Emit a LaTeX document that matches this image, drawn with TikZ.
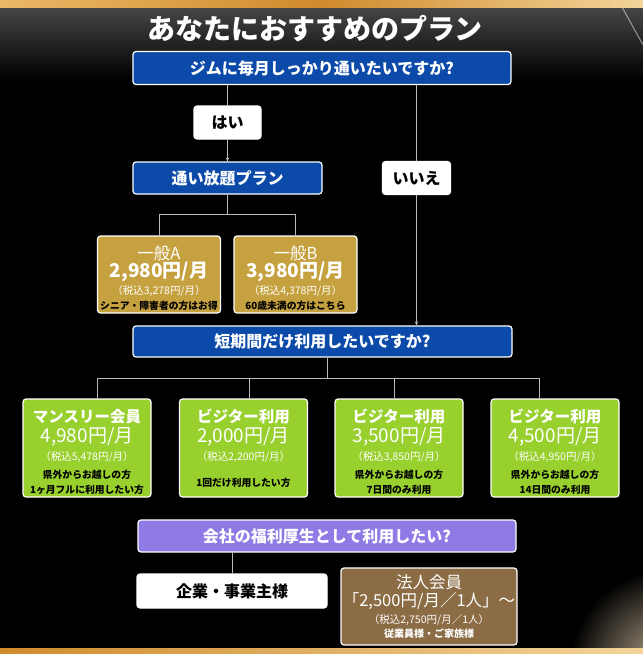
\documentclass[tikz,border=0pt]{standalone}
\usepackage{fontspec}
\setmainfont{Noto Sans CJK JP}
\usetikzlibrary{positioning}
\usetikzlibrary{arrows.meta}

\definecolor{qblue}{HTML}{0B4AA8}
\definecolor{goldc}{HTML}{C6A13F}
\definecolor{greenc}{HTML}{98D02E}
\definecolor{purplec}{HTML}{8F7AE6}
\definecolor{brownc}{HTML}{8B6C45}
\definecolor{linegrey}{HTML}{BBBBBB}
\definecolor{barL}{HTML}{EAB868}
\definecolor{barM}{HTML}{D08B2C}
\definecolor{barR}{HTML}{F3D49A}
\definecolor{glowc}{HTML}{B8A88E}

\begin{document}
\begin{tikzpicture}[x=1pt,y=-1pt,
  box/.style={draw=white,line width=1.2pt,rounded corners=3pt,inner sep=0pt},
  blue box/.style={box,fill=qblue,text=white,font=\bfseries\fontsize{16}{18}\selectfont},
  white box/.style={box,fill=white,text=black,font=\bfseries\fontsize{16}{18}\selectfont},
  gold box/.style={box,fill=goldc,minimum width=123pt,minimum height=77pt},
  green box/.style={box,fill=greenc,minimum width=128pt,minimum height=98pt},
  line/.style={draw=linegrey,line width=0.8pt},
  head/.style={text=white,inner sep=0pt,font=\fontsize{16.5}{18}\selectfont},
  price/.style={text=white,inner sep=0pt,font=\fontsize{19}{21}\selectfont},
  tax/.style={text=white,inner sep=0pt,font=\fontsize{10.5}{12}\selectfont},
  note/.style={text=black,inner sep=0pt,font=\bfseries\fontsize{9.8}{11}\selectfont},
]
\useasboundingbox (0,0) rectangle (643,654);
% background
\fill[black] (0,0) rectangle (643,654);
\shade[top color=gray!55!black,bottom color=black] (0,7) rectangle (643,80);
\begin{scope}
\clip (0,7) rectangle (643,648);
\shade[inner color=glowc,outer color=black] (665,665) circle (95);
\draw[white,opacity=0.5,line width=1pt] (622,7) -- (643,45);
\end{scope}
\shade[left color=barL,right color=barR,middle color=barM] (0,0) rectangle (643,7);
\shade[left color=barM,right color=barR] (0,648) rectangle (643,654);

\node[text=white,font=\bfseries\fontsize{28}{30}\selectfont] (title) at (315,29) {あなたにおすすめのプラン};

% first question
\node[blue box,minimum width=378pt,minimum height=33pt] (q1) at (322,68) {ジムに毎月しっかり通いたいですか?};
\node[white box,minimum width=67pt,minimum height=33pt] (yes) at (227.5,122.5) {はい};
\node[blue box,minimum width=189pt,minimum height=32pt] (plan) at (227.5,178) {通い放題プラン};
\node[white box,minimum width=68pt,minimum height=33pt] (no) at (416.5,178) {いいえ};

\node[gold box] (genA) at (159,274.5) {};
\node[gold box] (genB) at (295.5,274.5) {};
\node[head] (genA 1) at (159,253) {一般A};
\node[price,font=\bfseries\fontsize{19}{21}\selectfont] (genA 2) at (159,272) {2,980円/月};
\node[tax] (genA 3) at (159,291) {（税込3,278円/月）};
\node[note] (genA 4) at (159,306) {シニア・障害者の方はお得};
\node[head] (genB 1) at (295.5,253) {一般B};
\node[price,font=\bfseries\fontsize{19}{21}\selectfont] (genB 2) at (295.5,272) {3,980円/月};
\node[tax] (genB 3) at (295.5,291) {（税込4,378円/月）};
\node[note] (genB 4) at (295.5,306) {60歳未満の方はこちら};

\draw[line] (q1.south -| yes.north) -- (yes.north);
\draw[line,-{Stealth[length=4pt,width=3.5pt]}] (yes.south) -- (yes.south |- plan.north);
\draw[line] (q1.south -| no.north) -- (no.north);
\draw[line] (plan.south) -- ++(0,20) coordinate (split1);
\draw[line] (genA.north) |- (split1) -| (genB.north);

% second question
\node[blue box,minimum width=379pt,minimum height=31pt] (q2) at (322.5,341.5) {短期間だけ利用したいですか?};
\draw[line,-{Stealth[length=4pt,width=3.5pt]}] (no.south) -- (no.south |- q2.north);

\node[green box] (gr1) at (87,448) {};
\node[green box] (gr2) at (243.5,448) {};
\node[green box] (gr3) at (399,448) {};
\node[green box] (gr4) at (555,448) {};
\node[head,font=\bfseries\fontsize{15.5}{17}\selectfont] (gr1 1) at (87,417) {マンスリー会員};
\node[price] (gr1 2) at (87,437) {4,980円/月};
\node[tax] (gr1 3) at (87,457) {（税込5,478円/月）};
\node[note] (gr1 4) at (87,475) {県外からお越しの方};
\node[note] (gr1 5) at (87,490) {1ヶ月フルに利用したい方};
\node[head,font=\bfseries\fontsize{15.5}{17}\selectfont] (gr2 1) at (243.5,417) {ビジター利用};
\node[price] (gr2 2) at (243.5,437) {2,000円/月};
\node[tax] (gr2 3) at (243.5,457) {（税込2,200円/月）};
\node[note] (gr2 4) at (243.5,483) {1回だけ利用したい方};
\node[head,font=\bfseries\fontsize{15.5}{17}\selectfont] (gr3 1) at (399,417) {ビジター利用};
\node[price] (gr3 2) at (399,437) {3,500円/月};
\node[tax] (gr3 3) at (399,457) {（税込3,850円/月）};
\node[note] (gr3 4) at (399,475) {県外からお越しの方};
\node[note] (gr3 5) at (399,490) {7日間のみ利用};
\node[head,font=\bfseries\fontsize{15.5}{17}\selectfont] (gr4 1) at (555,417) {ビジター利用};
\node[price] (gr4 2) at (555,437) {4,500円/月};
\node[tax] (gr4 3) at (555,457) {（税込4,950円/月）};
\node[note] (gr4 4) at (555,475) {県外からお越しの方};
\node[note] (gr4 5) at (555,490) {14日間のみ利用};

\draw[line] ([xshift=4.5pt]q2.south) -- ++(0,20.5) coordinate (split2);
\draw[line] ([xshift=10pt]gr1.north) |- (split2) -| ([xshift=-16pt]gr4.north);
\draw[line] ([xshift=5.5pt]gr2.north) -- ([xshift=5.5pt]gr2.north |- split2);
\draw[line] ([xshift=-5pt]gr3.north) -- ([xshift=-5pt]gr3.north |- split2);

% third question
\node[box,fill=purplec,text=white,font=\bfseries\fontsize{16}{18}\selectfont,
  minimum width=378pt,minimum height=32pt] (q3) at (327,536) {会社の福利厚生として利用したい?};
\node[white box,minimum width=190pt,minimum height=34pt] (corp) at (232,591) {企業・事業主様};
\node[box,fill=brownc,minimum width=176pt,minimum height=77pt] (corpmem) at (429,606.5) {};
\node[head] (corpmem 1) at (429,582) {法人会員};
\node[price,font=\fontsize{16.5}{18}\selectfont] (corpmem 2) at (429,601) {「2,500円/月／1人」〜};
\node[tax] (corpmem 3) at (429,620) {（税込2,750円/月／1人）};
\node[tax,font=\bfseries\fontsize{10}{12}\selectfont] (corpmem 4) at (429,634) {従業員様・ご家族様};
\draw[line] (corp.north) -- (corp.north |- q3.south);
\end{tikzpicture}
\end{document}
